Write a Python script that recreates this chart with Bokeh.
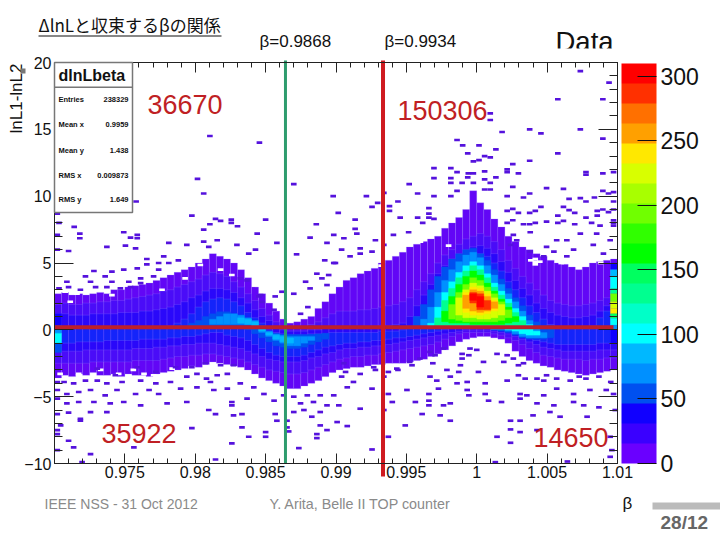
from bokeh.plotting import figure
from bokeh.embed import file_html
from bokeh.resources import INLINE
from bokeh.models import (Label, BoxAnnotation, LinearAxis, FixedTicker, Range1d,
                          ColorBar, LinearColorMapper)
import math

title_text = "ΔlnLと収束するβの関係"
x_ticks = [0.975, 0.98, 0.985, 0.99, 0.995, 1, 1.005, 1.01]
x_labels = ["0.975", "0.98", "0.985", "0.99", "0.995", "1", "1.005", "1.01"]
x_minor = [0.97 + 0.001 * n for n in range(41)]
y_ticks = [-10, -5, 0, 5, 10, 15, 20]
y_minor = list(range(-10, 21))
z_ticks = [0, 50, 100, 150, 200, 250, 300]
level_colors = ["#6a00ff", "#3a00ff", "#1000ff", "#0050f0", "#0090ff", "#00b8ff", "#00ffff",
                "#00ffc8", "#00ff90", "#00ff60", "#00ff00", "#30ff00", "#70ff00", "#a8ff00",
                "#d8ff00", "#ffe800", "#ffa000", "#ff7000", "#ff3000", "#ff0000"]
band_colors = ["#6206f6", "#4a0cf8", "#2a08fa", "#1424fa"]
green_x = 0.98641
red_x = 0.99334
zero_y = 0.2

band_top = [2.7,2.8,2.6,2.7,2.6,2.7,2.8,2.7,3.0,3.0,3.2,3.3,3.4,3.5,3.7,3.9,4.1,4.3,4.5,4.7,
            5.0,5.3,5.7,5.5,5.3,5.0,4.5,3.9,3.2,2.7,2.0,1.4,0.8,0.5,0.6,0.8,1.0,1.6,2.1,2.7,
            3.2,3.7,3.9,4.2,4.4,4.6,5.0,5.2,5.5,5.8,6.2,6.4,6.6,6.8,7.0,7.6,8.0,8.4,9.0,10.4,
            9.5,9.0,8.3,7.7,7.0,6.6,6.2,6.0,5.7,5.5,5.2,5.0,4.9,4.7,4.5,4.7,5.0,5.1,5.2,5.3]
band_bot = [-3.6,-3.4,-3.5,-3.3,-3.4,-3.2,-3.4,-3.4,-3.3,-3.5,-3.3,-3.4,-3.4,-3.5,-3.3,-3.2,
            -3.1,-3.0,-2.9,-2.7,-2.8,-2.6,-2.4,-2.5,-2.6,-2.7,-2.8,-3.0,-3.3,-3.6,-3.8,-4.0,
            -4.2,-4.4,-4.4,-4.2,-4.0,-3.8,-3.5,-3.2,-3.0,-2.9,-2.8,-2.8,-2.7,-2.6,-2.6,-2.5,
            -2.5,-2.5,-2.4,-2.3,-2.2,-2.0,-1.8,-1.5,-1.2,-0.9,-0.7,-0.6,-0.5,-0.5,-0.6,-0.7,
            -1.0,-1.6,-2.0,-2.3,-2.5,-2.7,-2.8,-3.0,-3.1,-3.2,-3.3,-3.4,-3.3,-3.2,-3.1,-3.0]
l1_top = [1.9,2.0,1.9,1.9,2.0,2.0,2.1,2.1,2.2,2.2,2.3,2.4,2.5,2.6,2.7,2.9,3.0,3.2,3.4,3.6,
          3.8,4.1,4.3,4.2,4.0,3.6,3.2,2.7,2.2,1.6,1.1,0.6,0.2,0.1,0.1,0.2,0.4,0.6,0.9,1.2,
          1.4,1.4,1.4,1.5,1.5,1.6,1.7,1.8,1.9,2.1,2.4,3.0,3.6,4.2,5.0,5.6,6.0,6.4,6.8,7.0,
          7.2,7.0,6.6,6.0,5.2,4.6,4.0,3.5,3.0,2.6,2.2,2.0,1.9,1.8,1.8,1.9,2.0,2.2,2.4,2.6]
l1_bot = [-2.5,-2.5,-2.5,-2.5,-2.5,-2.4,-2.4,-2.4,-2.4,-2.4,-2.4,-2.3,-2.3,-2.3,-2.3,-2.2,
          -2.1,-2.0,-2.0,-1.9,-1.9,-1.8,-1.8,-1.9,-2.0,-2.1,-2.2,-2.4,-2.6,-2.8,-3.0,-3.1,
          -3.2,-3.3,-3.3,-3.2,-3.0,-2.8,-2.6,-2.4,-2.2,-2.1,-2.0,-2.0,-1.9,-1.9,-1.8,-1.7,
          -1.6,-1.5,-1.4,-1.3,-1.2,-1.1,-0.9,-0.7,-0.5,-0.3,-0.2,-0.2,-0.2,-0.2,-0.3,-0.4,
          -0.6,-0.8,-1.1,-1.4,-1.7,-1.9,-2.0,-2.1,-2.2,-2.2,-2.2,-2.3,-2.2,-2.2,-2.1,-2.1]
l2_top = [1.2,1.2,1.1,1.1,1.1,1.2,1.2,1.2,1.2,1.3,1.3,1.3,1.4,1.4,1.5,1.6,1.7,1.9,2.1,2.4,
          2.6,2.9,3.1,3.1,3.0,2.8,2.4,2.0,1.5,1.0,0.7,0.2,0,-0.1,-0.1,-0.1,0,0,0.1,0.2,
          0.2,0.2,0.2,0.2,0.2,0.2,0.3,0.3,0.4,0.5,1.0,1.8,2.6,3.4,4.2,4.8,5.3,5.7,6.0,6.2,
          6.3,6.1,5.7,5.1,4.3,3.7,3.1,2.6,2.0,1.6,1.3,1.1,1.0,0.9,0.9,1.0,1.1,1.4,1.8,2.2]
l2_bot = [-1.6,-1.6,-1.6,-1.6,-1.5,-1.5,-1.5,-1.5,-1.5,-1.5,-1.5,-1.4,-1.4,-1.4,-1.3,-1.3,
          -1.2,-1.2,-1.1,-1.1,-1.0,-1.0,-1.0,-1.1,-1.2,-1.3,-1.4,-1.6,-1.8,-2.0,-2.2,-2.3,
          -2.4,-2.4,-2.4,-2.3,-2.1,-2.0,-1.8,-1.7,-1.5,-1.4,-1.4,-1.3,-1.3,-1.2,-1.2,-1.1,
          -1.0,-0.9,-0.8,-0.7,-0.6,-0.5,-0.4,-0.3,-0.2,-0.1,0,0,0,0,-0.1,-0.2,
          -0.3,-0.5,-0.7,-0.9,-1.1,-1.3,-1.4,-1.5,-1.6,-1.6,-1.6,-1.6,-1.6,-1.5,-1.5,-1.5]
l3_top = [0.4,0.2,0.1,0.1,0.1,0.1,0.1,0.1,0.1,0.1,0.1,0.1,0.1,0.1,0.2,0.2,0.3,0.5,0.8,1.2,
          1.7,2.1,2.3,2.4,2.3,2.1,1.8,1.3,0.9,0.5,0,-0.2,-0.3,-0.4,-0.4,-0.4,-0.3,-0.3,-0.3,-0.2,
          -0.2,-0.2,-0.2,-0.2,-0.2,-0.2,-0.1,-0.1,-0.1,0,0.2,1.0,1.8,2.6,3.6,4.2,4.7,5.1,5.4,5.6,
          5.7,5.5,5.0,4.4,3.6,3.0,2.4,1.8,1.3,0.8,0.4,0.2,0.1,0.1,0.1,0.1,0.3,0.9,1.4,1.8]
l3_bot = [-1.0,-1.0,-1.0,-0.9,-0.9,-0.9,-0.9,-0.8,-0.8,-0.8,-0.8,-0.8,-0.7,-0.7,-0.7,-0.7,
          -0.6,-0.6,-0.5,-0.5,-0.4,-0.3,-0.2,-0.2,-0.4,-0.5,-0.6,-0.8,-1.1,-1.4,-1.7,-1.9,
          -2.0,-2.0,-2.0,-1.9,-1.7,-1.5,-1.3,-1.2,-1.1,-1.0,-1.0,-0.9,-0.9,-0.8,-0.8,-0.7,
          -0.6,-0.6,-0.5,-0.4,-0.3,-0.2,-0.1,0,0.1,0.2,0.3,0.3,0.3,0.2,0.1,0,
          -0.1,-0.2,-0.4,-0.6,-0.8,-0.9,-1.0,-1.1,-1.1,-1.1,-1.1,-1.1,-1.1,-1.0,-1.0,-1.0]

# ridge near beta = 0.985 : (level, first column, tops, bottoms)
ridge_a = (3, 19, [0.5,0.7,1.0,1.2,1.35,1.35,1.2,1.1,0.85,0.5,0.1,-0.15,-0.3,-0.35,-0.35,-0.35,-0.35,-0.35,-0.3,-0.25],
           [0.1,0.1,0.1,0.1,0.1,0.1,0.1,0.1,0.0,-0.3,-0.6,-0.9,-1.2,-1.3,-1.4,-1.4,-1.3,-1.1,-0.9,-0.7])
ridge_b = (4, 22, [0.8,1.0,1.2,1.2,1.1,0.9,0.7,0.3,-0.1,-0.3,-0.4,-0.5,-0.5,-0.5,-0.5],
           [0.4,0.4,0.4,0.4,0.4,0.4,0.2,-0.2,-0.5,-0.8,-1.0,-1.2,-1.2,-1.0,-0.8])
ridge_c = (5, 26, [0.9,0.8,0.6,0.2,-0.2,-0.4,-0.5,-0.6], [0.5,0.4,0.3,-0.1,-0.4,-0.7,-0.9,-1.0])

# main peak near beta = 1 : (level, first column, tops, bottoms)
peak_a = (3, 50, [0.3,1.0,1.9,3.0,4.0,4.7,5.3,5.7,6.0,6.1,5.7,5.2,4.5,3.8,3.1,2.4,1.8,1.1,0.6,0.3,0.1],
          [0.1,0.1,0.1,0.1,0.1,0.1,0.1,0.1,0.1,0.1,0.1,0.1,0,-0.1,-0.2,-0.4,-0.6,-0.7,-0.7,-0.7,-0.6])
peak_b = (4, 52, [0.8,1.7,2.8,3.7,4.5,5.1,5.6,5.8,5.4,4.8,4.1,3.4,2.7,2.1,1.4,0.7,0.1,-0.2],
          [0.1,0.1,0.1,0.1,0.1,0.1,0.1,0.1,0.1,0.1,0,0,-0.1,-0.3,-0.5,-0.6,-0.6,-0.6])
peak_c = (6, 53, [0.5,1.7,2.8,3.6,4.3,4.8,5.1,4.8,4.2,3.5,2.9,2.3,1.6,1.0,0.4,-0.1],
          [0.2,0.2,0.2,0.2,0.2,0.2,0.2,0.2,0.2,0.2,0.2,0,-0.1,-0.3,-0.4,-0.4])
peak_d = (8, 54, [0.9,2.2,3.1,3.9,4.4,4.8,4.5,3.9,3.2,2.6,2.0,1.3,0.7],
          [0.3,0.3,0.3,0.3,0.3,0.3,0.3,0.3,0.3,0.3,0.3,0.3,0.3])
peak_e = (10, 55, [1.4,2.5,3.4,4.0,4.4,4.1,3.5,2.9,2.3,1.7,1.0],
          [0.6,0.5,0.5,0.5,0.4,0.4,0.4,0.4,0.4,0.5,0.6])
peak_f = (12, 56, [1.9,2.8,3.4,3.9,3.7,3.2,2.7,2.1,1.5],
          [0.8,0.7,0.6,0.6,0.6,0.6,0.6,0.7,0.9])
peak_g = (14, 57, [2.4,3.0,3.5,3.3,2.9,2.4,1.9], [1.1,0.9,0.9,0.8,0.8,0.9,1.1])
peak_h = (15, 58, [2.8,3.2,3.1,2.7,2.2], [1.3,1.1,1.1,1.2,1.4])
peak_i = (16, 58, [2.6,3.0,2.9,2.5,2.1], [1.6,1.4,1.3,1.4,1.6])
peak_j = (18, 59, [2.8,2.7,2.2], [2.0,1.5,1.5])
peak_k = (19, 59, [2.7,2.5], [2.2,1.7])

# single bright columns at the two edges : (y high, y low, level)
edge_left = [(1.2,0.3,2),(0.3,-0.25,4),(-0.25,-1.0,6),(-1.0,-1.7,3)]
edge_right = [(5.0,4.5,2),(4.5,4.0,5),(4.0,3.1,6),(3.1,2.7,8),(2.7,2.1,12),(2.1,1.6,14),
              (1.6,1.2,15),(1.2,0.85,9),(0.85,0.35,6),(0.35,0.0,4),(0.0,-1.0,2)]

# empty cells inside the band edge : (x bin of 100, y)
band_gaps = [(2.8,2.1),(1.9,2.85),(4,2.7),(10.2,2.6),(19.1,3),(23.2,3.85),(25.9,4.85),(29.5,4.5),(31.5,4.1),
             (8.2,-3),(11.4,-3.3),(19.1,-3.4),(20.9,-2.9),(27,-3),(29.8,-2.8),(33,-3.15),(34.2,-3.5),(1,-3.3),
             (4.3,-3.3),(14,-3),(15.9,-3.3),(17.6,-3.4),(85.4,5.3),(85.4,5.1),(84.6,5.2),(85.4,4.9),(86.2,5.1),
             (90,5),(94,5.1),(97,5),(65,6.6),(70,6.3),(60,6.2),(52,5.8),(58,4.8),(49,4.7),(54,4.4)]

# isolated low-count cells : (x bin of 100, y)
sparse_upper = [(27.6,14.5),(36.4,14),(25.4,11.3),(26.5,10.2),(42.5,10.9),(14.5,9.6),(0.5,8.7),(0.8,8.0),(3.5,7.7),
    (24.4,8.55),(27.6,7.9),(28.6,8.3),(29.5,8.15),(31.4,8.25),(31.4,8),(32.5,7.75),(37.5,8.25),(46.5,7.9),(26.5,7.5),
    (93.4,19.35),(98.5,18.5),(89.4,17.25),(97.4,17.25),(77.4,16.2),(77.4,15.7),(79.5,14.8),(84.4,15),(86.4,14.7),(93.4,15),
    (97.4,14.3),(71.5,14.2),(72.5,13.8),(75.4,13.8),(78.4,13.5),(73.4,13.2),(76.4,13),(77.4,12.9),(75.4,12.7),(74.4,12.6),
    (89.4,13.2),(84.4,12.65),(81.4,12.4),(80.4,12),(67.4,12.1),(70.4,12.1),(71.5,11.8),(73.5,11.7),(74.4,11.7),(76.4,11.85),
    (80.4,11.8),(82.4,11.7),(94.4,11.8),(94.4,11.6),(97.4,11.7),(99.3,11.8),(67.4,11.35),(70.4,11.35),(73.4,11.4),(76.4,11.25),
    (78.4,11.4),(70.4,11),(74.4,11),(72.4,11),(77.4,11),(63,10.9),(81.4,10.7),(87.4,10.6),(90.4,10.55),(58.5,10.25),(64.5,10.2),
    (71.5,10.4),(77.4,10.5),(76.4,10.5),(55.4,10),(49.5,10),(70.4,10),(67.4,10),(80.4,10),(84.4,10.2),(83.3,9.9),(97.4,10.4),
    (98.4,10.2),(99.3,10.3),(95.9,9.9),(91.4,9.8),(93.4,9.85),(94.4,9.6),(57.4,9.5),(56.4,9.2),(61,9.6),(59.5,9.25),(59.5,8.9),
    (66.5,9.1),(66.5,8.7),(50.4,8.75),(61.4,8.4),(64.5,8.4),(66.5,8.4),(53.4,8.25),(65.4,8),(67.4,8.3),(53.4,7.55),(80.4,8.9),
    (81.4,9.05),(82.4,8.75),(84.4,8.75),(86.4,9.2),(85.4,8.9),(89.4,8.55),(90.4,9.2),(92.4,8.75),(91.4,8.95),(94.4,8.4),(96.4,8.9),
    (97.4,9),(96.4,8.55),(98.4,8.8),(99.3,9),(99.3,8.2),(99.3,8),(99.3,7.8),(95.4,8),(96.9,7.8),(92.4,7.9),(89.4,8),(90.4,8.15),
    (87.4,8.1),(85.4,8),(84.4,7.9),(83.3,7.9),(81.4,8.2),(80.4,8),(99.3,9.6),
    (0.5,7.1),(4.5,7.2),(4.5,6.85),(12.3,7.3),(14.7,7.1),(13.5,6.9),(14.7,6.85),(9.3,6.2),(12.6,6.3),(14.4,6.1),(2.5,5.9),(0.5,6),
    (20.3,6.5),(23.5,6.35),(27.4,6.2),(28.9,6.7),(26.5,6.6),(36,7.2),(39.5,6.5),(35.7,6),(34.5,5.7),(32.4,6.35),(43,5.65),(45.4,6.9),
    (48.4,6.5),(49.6,7.1),(48,5.2),(49.9,5),(16.4,5.3),(16.4,4.9),(19.4,5.5),(18.5,5),(18.5,4.5),(20.3,5),(22,5.2),(14.7,4.6),(12.3,4.5),
    (7,4.4),(10.2,4.35),(9,4),(5.5,4),(2.2,3.6),(6.4,3.6),(10.2,3.6),(13.2,3.6),(15.3,3.85),(17.6,4),(0.8,3.1),(2.5,3.2),(4.6,3),(7.3,3.2),
    (9.3,3.2),(11.7,3.1),(13.5,3.2),(15.3,3.5),(36.3,2.5),(36.9,2.1),(34.2,3.7),(33,3.85),(40.4,2.85),(42.5,2.7),(44.6,3.6),(45.4,3.1),
    (47.5,3.85),(48.4,3.35),(46.6,4.2),(49.6,5),(48.7,4.1),(39.2,2.5),(36.6,2.6),(45,1.7),(43.7,1.2),(39,1.5),
    (51.4,6.85),(54.3,5.7),(52.5,5.5),(51,6),(54.3,6.1),(56.4,5.85),(58.5,6.35),(57,6.7),(60.2,7.1),(62.9,7.3),(53.7,7.2),(81.5,7.1),
    (84.5,7.3),(89.2,6.7),(93.4,7.2),(96.3,7.2),(98.7,6.7),(81,6.35),(87.4,6.2),(91,6.7),(84.5,5.85),(88.7,5.85),(92.2,6),(95.7,6.35),
    (97.5,5.7),(86.9,5.5),(91,5.5),(82.1,6.7)]
sparse_lower = [(7.6,-2.9),(10.8,-3.4),(14.7,-2.8),(18,-3.15),(21.5,-2.8),(24.4,-2.8),(26.8,-2.5),(29.5,-2.65),(31.8,-2.65),
    (0.5,-3.9),(1.7,-3.9),(3.4,-4),(5.5,-3.8),(7.6,-3.8),(9.3,-4),(12,-3.9),(15.3,-3.8),(18,-4),(20.6,-3.9),(23.5,-3.5),(25.3,-3.3),
    (27,-3.65),(28.9,-3.4),(30.7,-3.3),(0.5,-4.5),(2.2,-4.8),(4.3,-4.65),(6.4,-4.5),(9,-4.9),(11.1,-4.5),(14.4,-4.8),(16.8,-4.5),
    (18.5,-4.8),(22.4,-4.4),(25.3,-4.3),(28.3,-4.5),(30.7,-4.4),(33,-4),(35.4,-4.3),(27.7,-3.9),(0.5,-5.15),(2.2,-5.5),(4.3,-5.4),
    (7,-5.4),(9.9,-5.5),(12.3,-5.4),(15.3,-5.65),(20,-5.5),(23.5,-5.4),(31.5,-5.4),(31.5,-5.65),(34.2,-5.15),(37.2,-4.8),(39,-5.3),
    (40.7,-4.9),(42.5,-5),(44.9,-4.9),(47.2,-4.9),(49.6,-4.9),(43.7,-5.5),(46,-5.4),(48.4,-5.65),(50.5,-5.65),(2.5,-6.2),(4.6,-6.65),
    (6.4,-6.15),(9.3,-6.15),(0.5,-6.3),(27.4,-6),(28.6,-6.3),(33.3,-6.3),(31.8,-6.4),(39.2,-6.3),(39.5,-6.8),(41.3,-6.8),(42.5,-6.15),
    (44.3,-6),(45.7,-6.5),(47.2,-6.15),(50.2,-6.9),(47.2,-7.15),(1.1,-7.15),(0.5,-7.5),(24.4,-7.35),(33.3,-7.3),(34.5,-8),(37.5,-7.65),
    (37.5,-8),(41.3,-7.3),(41.6,-7.6),(46.6,-7.8),(46.6,-8.1),(48.4,-7.5),(4.6,-6.8),(2.5,-8.3),(0.5,-9),(3.4,-8.8),(6.4,-9.3),(14.1,-8.8),
    (31.5,-8.5),(43.4,-8.85),(28.6,-9.7),(4.9,-9.9),(0.5,-7.8),
    (51.4,-2.5),(56.7,-2.8),(60.8,-2.9),(63.5,-2.65),(66.7,-1.65),(67.6,-1.9),(69.1,-1.4),(72.4,-1.8),(75,-1.5),(73.8,-1.4),(78.6,-1.8),
    (80.4,-1.9),(81.5,-2.15),(51.7,-3.15),(54.3,-3.3),(57,-3),(59.3,-3.15),(61,-3),(63.1,-2.4),(64.9,-2.15),(67.2,-2.5),(69.7,-3),(72.1,-2.65),
    (75.3,-3.15),(72.4,-2.15),(73.6,-1.9),(76.2,-2.4),(79.8,-2.4),(82.4,-2.65),(83.3,-2.5),(51,-3.5),(53.1,-3.9),(58.5,-3.5),(66.7,-3.5),
    (70.3,-3.5),(71.8,-3.15),(73.3,-3.9),(76.5,-4),(80.4,-3.8),(82.4,-3.4),(71.5,-4),(83.6,-3.65),(85.7,-3.65),(86.9,-3.8),(89.2,-3.65),
    (91.6,-3.8),(94.4,-3.65),(96.7,-3.5),(98.8,-3.9),(87.4,-3.4),(93.2,-3.5),(67.9,-3.8),(52,-4.3),(56.4,-4.4),(59.3,-4.8),(62.6,-4.5),
    (66.5,-4.8),(68.2,-4.4),(73.3,-4.5),(73.6,-4.9),(76.5,-4.8),(82.7,-4.8),(83.9,-4.9),(86.9,-4.9),(89.2,-4.4),(92.2,-4.8),(95.1,-4.5),
    (98,-4.5),(99.3,-4.8),(60,-5.4),(64.1,-5.4),(66.5,-5.3),(66.5,-5.65),(69.1,-5.65),(70.3,-5.5),(79.4,-5.4),(77.1,-5.3),(82.7,-5.15),
    (85.7,-5.5),(88.7,-5.65),(92.2,-5.4),(94,-5.65),(96.7,-5.8),(99.6,-6),(54.3,-5.9),(58.5,-6),(65.3,-6.3),(70.3,-6.8),(68.5,-6.4),(81,-6.8),
    (82.7,-6.8),(85,-6.4),(88,-6.15),(89.8,-6.5),(94.6,-6.5),(52,-7.2),(62.3,-7.15),(81,-7.45),(85.7,-7.5),(82.7,-7.65),(78.6,-8),(59.3,-8),
    (81,-8.45),(56.4,-8.95),(91.1,-9.85),(78.3,-9.9),(98.7,-8),(99,-9),(98.7,-9.5)]

X0, X1, Y0, Y1 = 0.97, 1.01, -10, 20
COL = 0.0005
BIN = 0.0004
BIN_H = 0.2
W, H = 720, 540


def dx(px):  # page pixel -> data x
    return X0 + (px - 54) * (X1 - X0) / 563


def dy(py):  # page pixel -> data y
    return Y0 + (463 - py) * (Y1 - Y0) / 401


p = figure(width=W, height=H, output_backend="svg", toolbar_location=None,
           x_range=Range1d(dx(0), dx(W)), y_range=Range1d(dy(H), dy(0)), min_border=0,
           x_axis_location=None, y_axis_location=None,
           background_fill_color="white", border_fill_color="white")
p.grid.visible = False
p.outline_line_color = None


def draw_cols(first, tops, bots, color, grid=False):
    n = len(tops)
    ls = [X0 + COL * (first + j) for j in range(n)]
    rs = [X0 + COL * (first + j + 1) for j in range(n)]
    if grid:
        p.quad(left=ls, right=rs, top=tops, bottom=bots, fill_color=color, line_color="#9a80ff",
               line_alpha=0.4, line_width=0.6)
    else:
        p.quad(left=ls, right=rs, top=tops, bottom=bots, fill_color=color, line_color=color, line_width=0.3)


def draw_cells(cells, color):
    p.quad(left=[X0 + BIN * (c[0] - 0.5) for c in cells], right=[X0 + BIN * (c[0] + 0.5) for c in cells],
           top=[c[1] + BIN_H / 2 for c in cells], bottom=[c[1] - BIN_H / 2 for c in cells],
           fill_color=color, line_color=None)


draw_cols(0, band_top, band_bot, band_colors[0], True)
draw_cols(0, l1_top, l1_bot, band_colors[1], True)
draw_cols(0, l2_top, l2_bot, band_colors[2], True)
draw_cols(0, l3_top, l3_bot, band_colors[3], True)
draw_cells(band_gaps, "white")
draw_cells(sparse_upper + sparse_lower, "#5512dd")
for lvl, first, tops, bots in [ridge_a, ridge_b, ridge_c, peak_a, peak_b, peak_c, peak_d,
                               peak_e, peak_f, peak_g, peak_h, peak_i, peak_j, peak_k]:
    draw_cols(first, tops, bots, level_colors[lvl])

for hi, lo, lvl in edge_left:
    draw_cols(0, [hi], [lo], level_colors[lvl])
for hi, lo, lvl in edge_right:
    draw_cols(79, [hi], [lo], level_colors[lvl])

# axes placed at the edges of the data region
style = dict(major_label_text_font="Liberation Sans", major_label_text_font_size="16px",
             major_label_text_color="#111111", axis_line_color="#222222",
             major_tick_line_color="#222222", minor_tick_line_color="#222222",
             major_tick_out=0, minor_tick_out=0)


def x_axis(loc, side, labels):
    a = LinearAxis(fixed_location=loc, bounds=(X0, X1), ticker=FixedTicker(ticks=x_ticks, minor_ticks=x_minor),
                   major_tick_in=10, minor_tick_in=5, major_label_standoff=2, **style)
    if labels:
        a.major_label_overrides = dict(zip(x_ticks, x_labels))
    else:
        a.major_label_text_color = None
    p.add_layout(a, side)


def y_axis(loc, side, labels):
    a = LinearAxis(fixed_location=loc, bounds=(Y0, Y1), ticker=FixedTicker(ticks=y_ticks, minor_ticks=y_minor),
                   major_tick_in=19, minor_tick_in=8, major_label_standoff=3, **style)
    if not labels:
        a.major_label_text_color = None
    p.add_layout(a, side)


x_axis(Y0, "below", True)
x_axis(Y1, "above", False)
y_axis(X0, "left", True)
y_axis(X1, "right", False)

# marker lines
p.segment(x0=[green_x], x1=[green_x], y0=[Y0], y1=[dy(60)], line_color="#2e9c6e", line_width=3)
p.segment(x0=[X0], x1=[dx(613)], y0=[zero_y], y1=[zero_y], line_color="#bd1f2b", line_width=4)
p.segment(x0=[red_x], x1=[red_x], y0=[dy(476)], y1=[dy(60)], line_color="#cf1b20", line_width=4)

mapper = LinearColorMapper(palette=level_colors, low=0, high=310)
cb = ColorBar(color_mapper=mapper, ticker=FixedTicker(ticks=z_ticks), width=35, height=400,
              padding=0, margin=0, major_tick_in=19, major_tick_out=0, minor_tick_in=0, minor_tick_out=0,
              major_tick_line_color="#111111", bar_line_color=None, border_line_color=None,
              major_label_text_font="Liberation Sans", major_label_text_font_size="23px",
              major_label_text_color="#111111", label_standoff=4, background_fill_alpha=0,
              location=(621, H - 463))
p.add_layout(cb, "center")


def text(t, px, py, size, color="#111111", font="Liberation Sans", align="left", style="normal", angle=0):
    p.add_layout(Label(x=dx(px), y=dy(py), text=t, text_font=font, text_font_size=f"{size}px",
                       text_color=color, text_align=align, text_baseline="middle", text_font_style=style,
                       angle=angle))


def box(x0, y0, x1, y1, color, line=None, lw=0):
    p.add_layout(BoxAnnotation(left=dx(x0), right=dx(x1), top=dy(y0), bottom=dy(y1), fill_color=color,
                               fill_alpha=1, line_color=line, line_width=lw, line_alpha=1 if line else 0))


# stats box
box(54, 62, 132, 212, "white", "#777777", 1.5)
box(54, 86, 132, 87.5, "#777777")
text("dlnLbeta", 58, 75, 16, font="Liberation Sans", style="bold")
for lab, val, yy in [("Entries", "238329", 99), ("Mean x", "0.9959", 124), ("Mean y", "1.438", 150),
                     ("RMS x", "0.009873", 175), ("RMS y", "1.649", 199)]:
    text(lab, 58, yy, 7.5, style="bold")
    text(val, 128, yy, 7.5, align="right", style="bold")

text(title_text, 38, 24, 17, font="Noto Sans CJK JP")
box(38, 35, 221, 36, "#111111")
text("lnL1-lnL2", 16, 98, 17, align="center", angle=math.pi / 2)
box(20, 68, 25, 73, "#777777")
text("β=0.9868", 259, 41, 17)
text("β=0.9934", 384, 41, 17)
text("Data", 555, 41, 27.5)
box(550, 48, 616, 60, "white")
for t, px, py in [("36670", 147, 104), ("150306", 397, 110), ("35922", 101, 433), ("14650", 533, 437)]:
    text(t, px, py, 27, color="#c01f24")
text("IEEE NSS - 31 Oct 2012", 44, 503, 14, color="#8a8a8a")
text("Y. Arita, Belle II TOP counter", 269, 503, 14.3, color="#8a8a8a")
text("β", 622, 503, 17)
box(652, 502, 720, 509, "#bbbbbb")
text("28/12", 660, 522, 19, color="#666666", style="bold")

open("out.html", "w").write(file_html(p, INLINE))
